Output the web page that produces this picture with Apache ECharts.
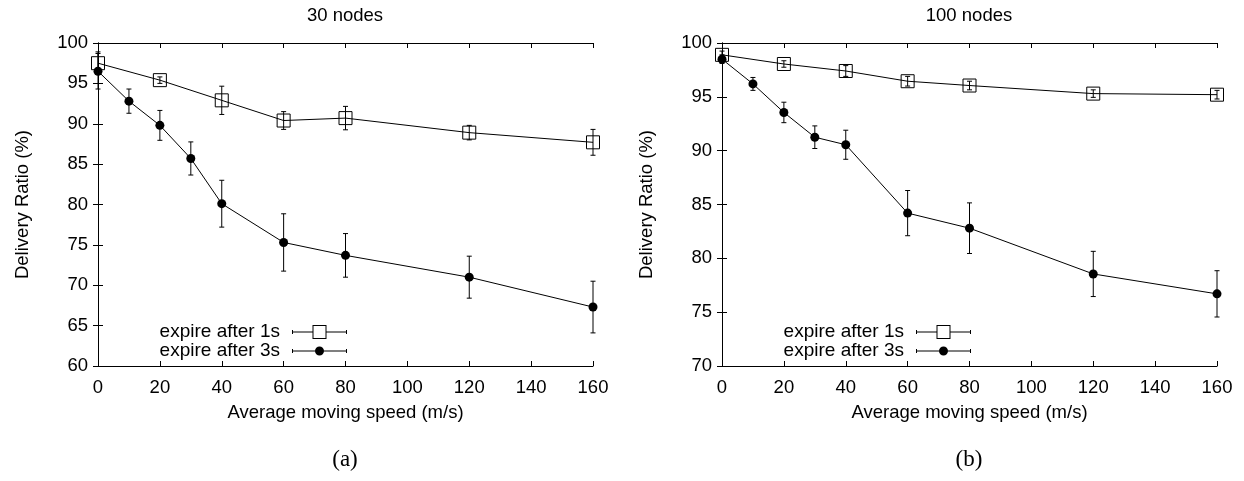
<!DOCTYPE html>
<html>
<head>
<meta charset="utf-8">
<script src="https://cdn.jsdelivr.net/npm/echarts@6/dist/echarts.min.js"></script>
<style>
html,body{margin:0;padding:0;background:#fff;}
#chart{width:1244px;height:481px;}
</style>
</head>
<body>
<div id="chart"></div>
<script>
// ---- data ----
var speeds3s = [0, 10, 20, 30, 40, 60, 80, 120, 160];
var speeds1s = [0, 20, 40, 60, 80, 120, 160];
var xTicks = [0, 20, 40, 60, 80, 100, 120, 140, 160];

// (a) 30 nodes
var a1sMean = [97.5, 95.4, 92.9, 90.4, 90.7, 88.9, 87.7];
var a1sErr  = [1.4, 0.4, 1.75, 1.1, 1.45, 0.9, 1.6];
var a3sMean = [96.5, 92.8, 89.8, 85.7, 80.1, 75.3, 73.7, 71.0, 67.3];
var a3sErr  = [2.2, 1.5, 1.85, 2.05, 2.9, 3.55, 2.7, 2.6, 3.2];

// (b) 100 nodes
var b1sMean = [98.9, 98.05, 97.4, 96.45, 96.05, 95.3, 95.2];
var b1sErr  = [0.35, 0.3, 0.5, 0.45, 0.4, 0.35, 0.4];
var b3sMean = [98.5, 96.2, 93.55, 91.25, 90.55, 84.2, 82.8, 78.55, 76.7];
var b3sErr  = [0.4, 0.6, 0.95, 1.05, 1.35, 2.1, 2.35, 2.1, 2.15];

var titles = ['30 nodes', '100 nodes'];
var panelLabels = ['(a)', '(b)'];
var name1s = 'expire after 1s';
var name3s = 'expire after 3s';

// ---- helpers ----
function pairs(xs, ys) { return xs.map(function (x, i) { return [x, ys[i]]; }); }
function errRows(xs, ys, es) { return xs.map(function (x, i) { return [x, ys[i] - es[i], ys[i] + es[i]]; }); }

var FONT = "'Liberation Sans', Arial, sans-serif";
var BLACK = '#000';
var FS = 18.5;

function errorBarSeries(name, gi, data) {
  return {
    type: 'custom', name: name, xAxisIndex: gi * 2, yAxisIndex: gi * 2, z: 5,
    silent: true,
    data: data,
    renderItem: function (params, api) {
      var x = api.value(0);
      var lo = api.coord([x, api.value(1)]);
      var hi = api.coord([x, api.value(2)]);
      var w = 2.5;
      var st = { stroke: BLACK, lineWidth: 1 };
      return {
        type: 'group',
        children: [
          { type: 'line', shape: { x1: lo[0], y1: lo[1], x2: hi[0], y2: hi[1] }, style: st },
          { type: 'line', shape: { x1: lo[0] - w, y1: lo[1], x2: lo[0] + w, y2: lo[1] }, style: st },
          { type: 'line', shape: { x1: hi[0] - w, y1: hi[1], x2: hi[0] + w, y2: hi[1] }, style: st }
        ]
      };
    }
  };
}

function lineSeries(name, gi, data, isSquare) {
  return {
    type: 'line', name: name, xAxisIndex: gi * 2, yAxisIndex: gi * 2, z: 4,
    data: data,
    symbol: isSquare ? 'rect' : 'circle',
    symbolSize: isSquare ? 13 : 9,
    showAllSymbol: true,
    lineStyle: { color: BLACK, width: 1 },
    itemStyle: isSquare ? { color: 'rgba(0,0,0,0)', borderColor: BLACK, borderWidth: 1 }
                        : { color: BLACK, borderWidth: 0 },
    emphasis: { disabled: true },
    silent: true
  };
}

var grids = [
  { left: 98, top: 43, right: 651, bottom: 115 },
  { left: 722, top: 43, right: 27, bottom: 115 }
];
var yRanges = [[60, 100], [70, 100]];

var xAxes = [], yAxes = [];
grids.forEach(function (g, gi) {
  var tick = { show: true, inside: true, length: 5, lineStyle: { color: BLACK, width: 1 } };
  var line = { show: true, lineStyle: { color: BLACK, width: 1 } };
  xAxes.push({
    type: 'value', gridIndex: gi, min: 0, max: 160, interval: 20, position: 'bottom',
    axisLine: line, axisTick: tick, splitLine: { show: false },
    axisLabel: { color: BLACK, fontFamily: FONT, fontSize: FS, margin: 12,
      formatter: function (v) { return xTicks.indexOf(v) >= 0 ? String(v) : ''; } },
    name: 'Average moving speed (m/s)', nameLocation: 'middle', nameGap: 37,
    nameTextStyle: { color: BLACK, fontFamily: FONT, fontSize: FS }
  });
  xAxes.push({
    type: 'value', gridIndex: gi, min: 0, max: 160, interval: 20, position: 'top',
    axisLine: line, axisTick: tick, splitLine: { show: false }, axisLabel: { show: false }
  });
  yAxes.push({
    type: 'value', gridIndex: gi, min: yRanges[gi][0], max: yRanges[gi][1], interval: 5, position: 'left',
    axisLine: line, axisTick: tick, splitLine: { show: false },
    axisLabel: { color: BLACK, fontFamily: FONT, fontSize: FS, margin: 10 },
    name: 'Delivery Ratio (%)', nameLocation: 'middle', nameGap: 66,
    nameTextStyle: { color: BLACK, fontFamily: FONT, fontSize: FS }
  });
  yAxes.push({
    type: 'value', gridIndex: gi, min: yRanges[gi][0], max: yRanges[gi][1], interval: 5, position: 'right',
    axisLine: line, axisTick: tick, splitLine: { show: false }, axisLabel: { show: false }
  });
});

// legend icons: error-bar style sample with marker, box 55 x 14
var iconSquare = 'path://' +
  'M0 5 L1 5 L1 6.5 L20.5 6.5 L20.5 0 L34.5 0 L34.5 6.5 L54 6.5 L54 5 L55 5 L55 9 L54 9 L54 7.5 L34.5 7.5 L34.5 14 L20.5 14 L20.5 7.5 L1 7.5 L1 9 L0 9 Z ' +
  'M21.5 1 L21.5 13 L33.5 13 L33.5 1 Z';
var iconCircle = 'path://' +
  'M0 5 L1 5 L1 6.5 L54 6.5 L54 5 L55 5 L55 9 L54 9 L54 7.5 L1 7.5 L1 9 L0 9 Z ' +
  'M32 7 A4.5 4.5 0 1 1 23 7 A4.5 4.5 0 1 1 32 7 Z ' +
  'M27.5 0 L27.51 0 L27.51 0.01 Z M27.5 14 L27.51 14 L27.51 13.99 Z';

function legend(name, icon, right, top) {
  return {
    data: [{ name: name, icon: icon }],
    right: right, top: top, orient: 'vertical', align: 'right', padding: 0,
    itemWidth: 55, itemHeight: 14, itemGap: 0,
    selectedMode: false,
    itemStyle: { color: BLACK, borderWidth: 0 },
    textStyle: { color: BLACK, fontFamily: FONT, fontSize: 19, lineHeight: 19, padding: [0, 7, 0, 0] }
  };
}

var option = {
  animation: false,
  backgroundColor: '#fff',
  grid: grids,
  xAxis: xAxes,
  yAxis: yAxes,
  legend: [
    legend(name1s, iconSquare, 897, 322.5),
    legend(name3s, iconCircle, 897, 341.5),
    legend(name1s, iconSquare, 273, 322.5),
    legend(name3s, iconCircle, 273, 341.5)
  ],
  graphic: [
    { type: 'text', x: 345, y: 16, style: { text: titles[0], fill: BLACK, font: FS + 'px ' + FONT, textAlign: 'center', textVerticalAlign: 'middle' } },
    { type: 'text', x: 969, y: 16, style: { text: titles[1], fill: BLACK, font: FS + 'px ' + FONT, textAlign: 'center', textVerticalAlign: 'middle' } },
    { type: 'text', x: 345, y: 460, style: { text: panelLabels[0], fill: BLACK, font: "23px 'Liberation Serif', 'Times New Roman', serif", textAlign: 'center', textVerticalAlign: 'middle' } },
    { type: 'text', x: 969, y: 460, style: { text: panelLabels[1], fill: BLACK, font: "23px 'Liberation Serif', 'Times New Roman', serif", textAlign: 'center', textVerticalAlign: 'middle' } }
  ],
  series: [
    lineSeries(name1s, 0, pairs(speeds1s, a1sMean), true),
    lineSeries(name3s, 0, pairs(speeds3s, a3sMean), false),
    errorBarSeries('err a 1s', 0, errRows(speeds1s, a1sMean, a1sErr)),
    errorBarSeries('err a 3s', 0, errRows(speeds3s, a3sMean, a3sErr)),
    lineSeries(name1s, 1, pairs(speeds1s, b1sMean), true),
    lineSeries(name3s, 1, pairs(speeds3s, b3sMean), false),
    errorBarSeries('err b 1s', 1, errRows(speeds1s, b1sMean, b1sErr)),
    errorBarSeries('err b 3s', 1, errRows(speeds3s, b3sMean, b3sErr))
  ]
};

var chart = echarts.init(document.getElementById('chart'), null, { renderer: 'canvas' });
chart.setOption(option);
</script>
</body>
</html>
